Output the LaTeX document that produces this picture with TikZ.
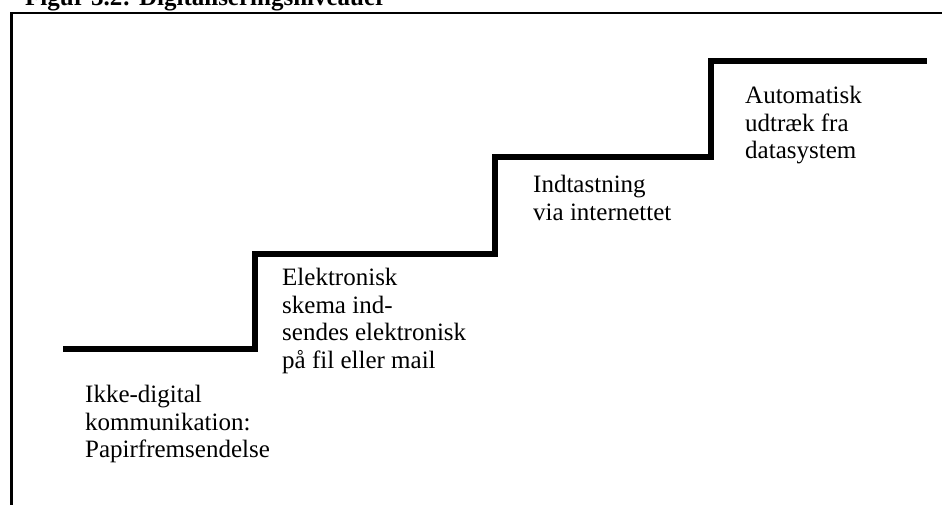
\documentclass[tikz,border=0pt]{standalone}
\usepackage{fontspec}
\setmainfont{Liberation Serif}
\usepackage{tikz}

\begin{document}
\begin{tikzpicture}[x=1pt, y=-1pt,
    level/.style={anchor=north west, inner sep=0pt, align=left,
                  font=\fontsize{25}{27.5}\selectfont}]
            \useasboundingbox (0,0) rectangle (942,504);

            % title, cut by the page edge
            \node[anchor=base west, inner sep=0pt, font=\fontsize{25}{28}\selectfont\bfseries]
                (title) at (25,5) {Figur 3.2: Digitaliseringsniveauer};

            % frame
            \coordinate (fb) at (11.5,530);
            \coordinate (fl) at (11.5,13);
            \coordinate (fr) at (970,13);
            \draw[line width=2.5pt] (fb)--(fl)--(fr);

            % the steps
            \coordinate (s0) at (63,349);
            \coordinate (s1) at (255,349);
            \coordinate (s2) at (255,254);
            \coordinate (s3) at (495,254);
            \coordinate (s4) at (495,157);
            \coordinate (s5) at (711,157);
            \coordinate (s6) at (711,61);
            \coordinate (s7) at (927,61);
            \draw[line width=6pt] (s0)--(s1)--(s2)--(s3)--(s4)--(s5)--(s6)--(s7);

            \node[level] (paper) at (85,385) {Ikke-digital\\kommunikation:\\Papirfremsendelse};
            \node[level] (file) at (282,268) {Elektronisk\\skema ind-\\sendes elektronisk\\på fil eller mail};
            \node[level] (web) at (533,175) {Indtastning\\via internettet};
            \node[level] (auto) at (745,86) {Automatisk\\udtræk fra\\datasystem};
        \end{tikzpicture}
\end{document}
